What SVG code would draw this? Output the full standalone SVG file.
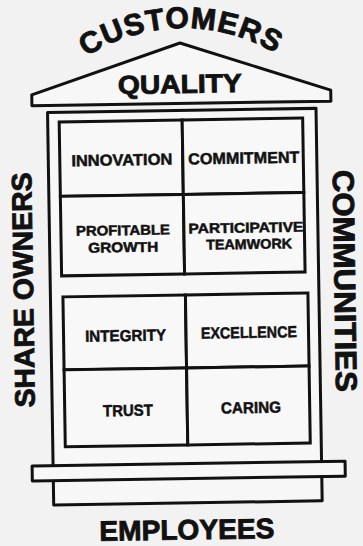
<svg xmlns="http://www.w3.org/2000/svg" width="363" height="546" viewBox="0 0 363 546">
  <style>
    .ln { fill: #f7f7f7; stroke: #111; stroke-width: 3; stroke-linejoin: round; }
    .cell { fill: #f8f8f8; stroke: #111; stroke-width: 3; }
    .lbl { font-family: "Liberation Sans", Arial, sans-serif; font-weight: bold; font-size: 16px; fill: #111; stroke: #111; stroke-width: 0.5; text-anchor: middle; }
    .two { font-size: 14px; }
    .big { font-family: "Liberation Sans", Arial, sans-serif; font-weight: bold; fill: #111; stroke: #111; stroke-width: 0.9; text-anchor: middle; }
  </style>
  <defs>
    <path id="arc" d="M15.9,146.4 A180,180 0 0 1 354.1,146.4"/>
  </defs>
  <rect width="363" height="546" fill="#f2f2f2"/>
  <g transform="rotate(-0.9 182 300)">
    <!-- stakeholder labels around the temple -->
    <g id="customers">
      <text class="big" font-size="30" letter-spacing="1"><textPath href="#arc" startOffset="50%">CUSTOMERS</textPath></text>
    </g>
    <g id="share-owners">
      <text class="big" font-size="28" textLength="235" lengthAdjust="spacingAndGlyphs" transform="translate(33.2 287.5) rotate(-90)">SHARE OWNERS</text>
    </g>
    <g id="communities">
      <text class="big" font-size="30" textLength="222" lengthAdjust="spacingAndGlyphs" transform="translate(334.7 283.4) rotate(90)">COMMUNITIES</text>
    </g>
    <g id="employees">
      <text class="big" x="183.2" y="539.5" font-size="28" textLength="175" lengthAdjust="spacingAndGlyphs">EMPLOYEES</text>
    </g>

    <!-- roof -->
    <g id="roof">
      <path class="ln" d="M35,92.5 L184,43 L334,92.5 L334,103.5 L35,103.5 Z"/>
      <text class="big" x="183.2" y="93" font-size="26" textLength="124" lengthAdjust="spacingAndGlyphs">QUALITY</text>
    </g>

    <!-- walls, base and ledge -->
    <g id="building">
      <rect class="ln" x="50.5" y="110.5" width="268.5" height="392.5"/>
      <rect class="ln" x="29.5" y="463.7" width="313" height="15"/>
    </g>

    <!-- upper window panel -->
    <g id="innovation">
      <rect class="cell" x="62" y="120" width="123" height="74.5"/>
      <text class="lbl" x="124" y="164.5" textLength="101" lengthAdjust="spacingAndGlyphs">INNOVATION</text>
    </g>
    <g id="commitment">
      <rect class="cell" x="185" y="120" width="120.5" height="74.5"/>
      <text class="lbl" x="246" y="164.5" textLength="111" lengthAdjust="spacingAndGlyphs">COMMITMENT</text>
    </g>
    <g id="profitable-growth">
      <rect class="cell" x="62" y="194.5" width="123" height="79.5"/>
      <text class="lbl two" x="124" y="234.2" textLength="94" lengthAdjust="spacingAndGlyphs">PROFITABLE</text>
      <text class="lbl two" x="124" y="251.2" textLength="70" lengthAdjust="spacingAndGlyphs">GROWTH</text>
    </g>
    <g id="participative-teamwork">
      <rect class="cell" x="185" y="194.5" width="120.5" height="79.5"/>
      <text class="lbl two" x="247" y="233.5" textLength="115" lengthAdjust="spacingAndGlyphs">PARTICIPATIVE</text>
      <text class="lbl two" x="250" y="250" textLength="86" lengthAdjust="spacingAndGlyphs">TEAMWORK</text>
    </g>

    <!-- lower window panel -->
    <g id="integrity">
      <rect class="cell" x="63" y="295" width="122.5" height="73"/>
      <text class="lbl" x="125" y="340.2" textLength="81" lengthAdjust="spacingAndGlyphs">INTEGRITY</text>
    </g>
    <g id="excellence">
      <rect class="cell" x="185.5" y="295" width="122.5" height="73"/>
      <text class="lbl" x="248.4" y="339" textLength="96" lengthAdjust="spacingAndGlyphs">EXCELLENCE</text>
    </g>
    <g id="trust">
      <rect class="cell" x="63" y="368" width="122.5" height="77"/>
      <text class="lbl" x="126.2" y="415.1" textLength="50" lengthAdjust="spacingAndGlyphs">TRUST</text>
    </g>
    <g id="caring">
      <rect class="cell" x="185.5" y="368" width="122.5" height="77"/>
      <text class="lbl" x="249.2" y="414.1" textLength="60" lengthAdjust="spacingAndGlyphs">CARING</text>
    </g>

    <!-- no connectors in this drawing -->
    <g id="connectors"/>
  </g>
</svg>
